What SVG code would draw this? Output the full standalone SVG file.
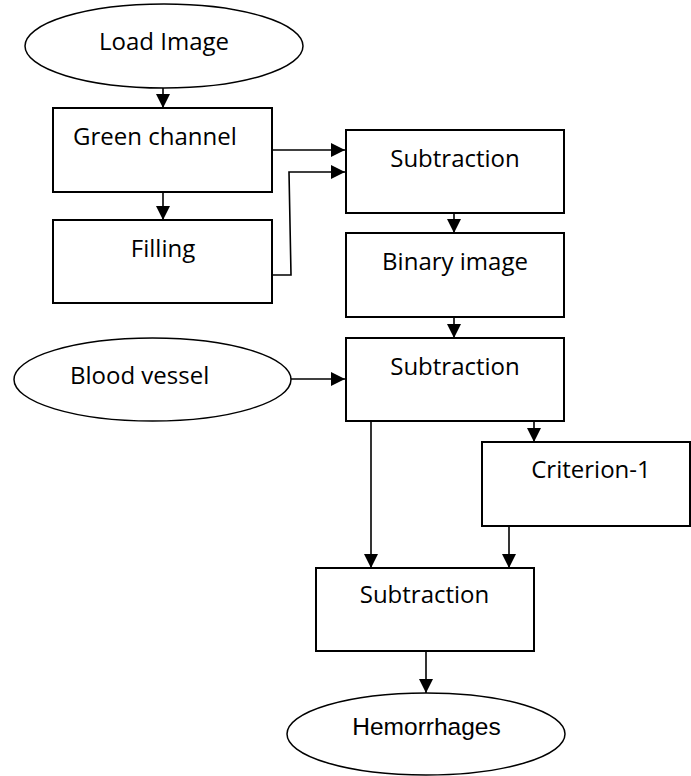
<svg xmlns="http://www.w3.org/2000/svg" width="691" height="776" viewBox="0 0 691 776">
<style>
.box{fill:#fff;stroke:#000;stroke-width:2}
.ell{fill:#fff;stroke:#000;stroke-width:1.5}
.lbl{font-family:"Open Sans","Noto Sans",sans-serif;font-size:24px;fill:#000}
.arial{font-family:"Liberation Sans",Arial,sans-serif;font-size:24.5px;fill:#000}
.c{text-anchor:middle}
.con{fill:none;stroke:#000;stroke-width:1.6;marker-end:url(#ah)}
</style>
<defs>
<marker id="ah" markerUnits="userSpaceOnUse" markerWidth="14" markerHeight="14" refX="14" refY="7" orient="auto">
<path d="M0,0 L14,7 L0,14 z" fill="#000"/>
</marker>
</defs>
<rect width="691" height="776" fill="#fff"/>
<g id="connectors">
<path class="con" d="M163,88 V108"/>
<path class="con" d="M163,192 V220"/>
<path class="con" d="M272,150 H345"/>
<path class="con" d="M272,275 H291 L289,172 H345"/>
<path class="con" d="M454,213 V233"/>
<path class="con" d="M454,317 V338"/>
<path class="con" d="M291,379 H345"/>
<path class="con" d="M371,421 V568"/>
<path class="con" d="M534,421 V442"/>
<path class="con" d="M509,526 V568"/>
<path class="con" d="M426,651 V693"/>
</g>
<g id="load-image">
<ellipse class="ell" cx="164" cy="46" rx="139" ry="42"/>
<text class="lbl c" x="164" y="50">Load Image</text>
</g>
<g id="green-channel">
<rect class="box" x="53" y="108" width="219" height="84"/>
<text class="lbl" x="73" y="145">Green channel</text>
</g>
<g id="filling">
<rect class="box" x="53" y="220" width="219" height="83"/>
<text class="lbl c" x="163" y="257">Filling</text>
</g>
<g id="subtraction-1">
<rect class="box" x="346" y="130" width="218" height="83"/>
<text class="lbl c" x="455" y="167">Subtraction</text>
</g>
<g id="binary-image">
<rect class="box" x="346" y="233" width="218" height="84"/>
<text class="lbl c" x="455" y="270">Binary image</text>
</g>
<g id="blood-vessel">
<ellipse class="ell" cx="152.5" cy="379.5" rx="138.5" ry="41.5"/>
<text class="lbl" x="70" y="384">Blood vessel</text>
</g>
<g id="subtraction-2">
<rect class="box" x="346" y="338" width="218" height="83"/>
<text class="lbl c" x="455" y="375">Subtraction</text>
</g>
<g id="criterion-1">
<rect class="box" x="482" y="442" width="208" height="84"/>
<text class="lbl c" x="591" y="478">Criterion-1</text>
</g>
<g id="subtraction-3">
<rect class="box" x="316" y="568" width="218" height="83"/>
<text class="lbl c" x="424.5" y="603">Subtraction</text>
</g>
<g id="hemorrhages">
<ellipse class="ell" cx="426" cy="734" rx="139" ry="41"/>
<text class="arial c" x="426.5" y="735">Hemorrhages</text>
</g>
</svg>
